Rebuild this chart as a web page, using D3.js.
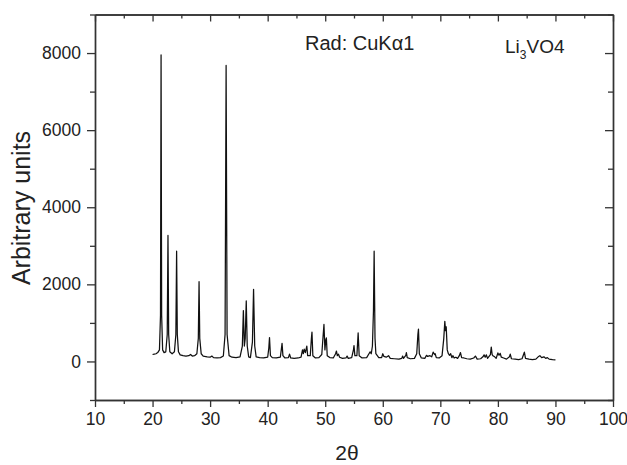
<!DOCTYPE html>
<html>
<head>
<meta charset="utf-8">
<script src="https://cdn.jsdelivr.net/npm/d3@7"></script>
<style>
  body { margin: 0; background: #fff; }
  text { font-family: "Liberation Sans", Arial, sans-serif; fill: #222; }
</style>
</head>
<body>
<div id="chart-area"></div>
<script>
// XRD pattern of Li3VO4 (2theta, intensity)
const twoTheta = [
  20.0, 20.3, 20.6, 20.9, 21.2, 21.38, 21.48, 21.58, 21.75, 22.0,
  22.3, 22.55, 22.68, 22.8, 23.0, 23.4, 23.8, 24.05, 24.18, 24.3,
  24.5, 24.8, 25.3, 25.8, 26.3, 26.6, 26.9, 27.3, 27.7, 27.95,
  28.08, 28.2, 28.45, 28.8, 29.5, 30.0, 30.3, 30.6, 31.2, 31.8,
  32.3, 32.6, 32.78, 32.95, 33.3, 33.8, 34.5, 35.2, 35.6, 35.78,
  35.95, 36.1, 36.28, 36.45, 36.7, 37.0, 37.35, 37.55, 37.75, 38.0,
  38.6, 39.3, 40.0, 40.2, 40.32, 40.48, 40.8, 41.5, 42.2, 42.38,
  42.5, 42.65, 43.0, 43.6, 43.8, 44.0, 44.6, 45.3, 45.8, 46.05,
  46.2, 46.35, 46.55, 46.8, 46.95, 47.4, 47.6, 47.7, 47.85, 48.3,
  48.9, 49.4, 49.65, 49.78, 49.95, 50.1, 50.2, 50.35, 50.8, 51.4,
  51.8, 51.95, 52.1, 52.3, 52.5, 53.0, 53.6, 53.8, 54.0, 54.6,
  54.9, 55.0, 55.15, 55.5, 55.72, 55.9, 56.4, 57.2, 57.6, 57.8,
  58.0, 58.2, 58.38, 58.5, 58.65, 58.8, 59.3, 59.8, 60.0, 60.2,
  60.6, 61.0, 61.3, 62.0, 62.8, 63.3, 63.45, 63.6, 64.0, 64.1,
  64.25, 64.8, 65.5, 65.9, 66.1, 66.2, 66.35, 66.7, 67.3, 67.6,
  67.8, 68.2, 68.5, 68.75, 69.0, 69.1, 69.3, 69.8, 70.3, 70.6,
  70.78, 70.9, 71.02, 71.2, 71.4, 71.6, 71.8, 72.0, 72.2, 72.4,
  72.7, 73.0, 73.3, 73.5, 73.7, 74.1, 74.6, 75.2, 75.8, 76.1,
  76.4, 77.0, 77.4, 77.6, 77.8, 78.0, 78.2, 78.7, 78.85, 79.0,
  79.2, 79.45, 79.7, 80.0, 80.2, 80.4, 80.6, 81.0, 81.5, 82.0,
  82.15, 82.35, 83.0, 83.6, 84.2, 84.6, 84.8, 85.4, 86.0, 86.6,
  87.0, 87.3, 87.6, 88.0, 88.3, 88.6, 88.9, 89.5, 90.0
];
const counts = [
  180, 190, 200, 230, 300, 1200, 7950, 1200, 300, 230,
  250, 700, 3270, 700, 250, 200, 250, 700, 2860, 700,
  250, 170, 150, 140, 150, 180, 140, 150, 200, 600,
  2070, 600, 200, 140, 120, 110, 140, 100, 90, 100,
  140, 700, 7680, 700, 150, 110, 100, 120, 400, 1320,
  400, 600, 1570, 400, 120, 100, 500, 1870, 400, 120,
  100, 90, 110, 350, 620, 150, 100, 90, 110, 320,
  470, 150, 90, 100, 190, 90, 80, 90, 110, 300,
  200, 320, 230, 400, 150, 150, 600, 760, 150, 90,
  100, 180, 700, 960, 300, 560, 610, 150, 100, 90,
  200, 270, 150, 190, 110, 80, 90, 140, 80, 100,
  300, 410, 150, 150, 740, 150, 90, 100, 200, 250,
  200, 400, 1300, 2860, 600, 200, 100, 100, 200, 130,
  110, 150, 80, 70, 60, 80, 140, 80, 160, 230,
  100, 70, 80, 200, 700, 840, 200, 90, 80, 160,
  130, 150, 120, 240, 180, 200, 100, 90, 150, 600,
  1040, 800, 900, 300, 200, 160, 200, 100, 150, 90,
  110, 80, 150, 230, 100, 90, 70, 60, 90, 140,
  60, 70, 120, 170, 110, 170, 80, 180, 370, 180,
  140, 120, 80, 220, 160, 210, 110, 90, 60, 120,
  190, 70, 60, 50, 70, 240, 80, 60, 50, 60,
  120, 150, 100, 120, 80, 100, 60, 45, 40
];
const xTicks = [10, 20, 30, 40, 50, 60, 70, 80, 90, 100];
const xMinor = [15, 25, 35, 45, 55, 65, 75, 85, 95];
const yTicks = [0, 2000, 4000, 6000, 8000];
const yMinor = [-1000, 1000, 3000, 5000, 7000, 9000];

const data = twoTheta.map((t, i) => ({ t: t, v: counts[i] }));

const svgWidth = 627, svgHeight = 465;
const margin = { left: 95, right: 14, top: 14.5, bottom: 65 };
const width = svgWidth - margin.left - margin.right;
const height = svgHeight - margin.top - margin.bottom;

const svg = d3.select("#chart-area")
              .append("svg")
              .attr("width", svgWidth)
              .attr("height", svgHeight);
const g = svg.append("g")
             .attr("transform", `translate(${margin.left},${margin.top})`);

const x = d3.scaleLinear().domain([10, 100]).range([0, width]);
const y = d3.scaleLinear().domain([-1000, 9000]).range([height, 0]);

const axisColor = "#333";

// pattern
const line = d3.line().x(d => x(d.t)).y(d => y(d.v));
g.append("path")
 .datum(data)
 .attr("fill", "none")
 .attr("stroke", "#111")
 .attr("stroke-width", 1.25)
 .attr("stroke-linejoin", "round")
 .attr("d", line);

function styleAxis(sel) {
  sel.select(".domain").attr("stroke", axisColor).attr("stroke-width", 1.4);
  sel.selectAll(".tick line").attr("stroke", axisColor).attr("stroke-width", 1.3);
  sel.selectAll("text").style("font-size", "17.5px").attr("fill", "#222");
}

// bottom: labelled, ticks outward
g.append("g")
 .attr("transform", `translate(0,${height})`)
 .call(d3.axisBottom(x).tickValues(xTicks).tickSize(7).tickPadding(6).tickSizeOuter(0))
 .call(styleAxis);
g.append("g")
 .attr("transform", `translate(0,${height})`)
 .call(d3.axisBottom(x).tickValues(xMinor).tickSize(4).tickFormat("").tickSizeOuter(0))
 .call(styleAxis);

// top: mirror, ticks inward
g.append("g")
 .call(d3.axisBottom(x).tickValues(xTicks).tickSize(7).tickFormat("").tickSizeOuter(0))
 .call(styleAxis);
g.append("g")
 .call(d3.axisBottom(x).tickValues(xMinor).tickSize(4).tickFormat("").tickSizeOuter(0))
 .call(styleAxis);

// left: labelled, ticks outward
g.append("g")
 .call(d3.axisLeft(y).tickValues(yTicks).tickSize(8).tickPadding(6).tickSizeOuter(0)
         .tickFormat(d3.format("d")))
 .call(styleAxis);
g.append("g")
 .call(d3.axisLeft(y).tickValues(yMinor).tickSize(5).tickFormat("").tickSizeOuter(0))
 .call(styleAxis);

// right: mirror, ticks inward
g.append("g")
 .attr("transform", `translate(${width},0)`)
 .call(d3.axisLeft(y).tickValues(yTicks).tickSize(8).tickFormat("").tickSizeOuter(0))
 .call(styleAxis);
g.append("g")
 .attr("transform", `translate(${width},0)`)
 .call(d3.axisLeft(y).tickValues(yMinor).tickSize(5).tickFormat("").tickSizeOuter(0))
 .call(styleAxis);

// axis titles
svg.append("text")
   .attr("x", 347)
   .attr("y", 460)
   .attr("text-anchor", "middle")
   .style("font-size", "21px")
   .text("2θ");

svg.append("text")
   .attr("x", -208)
   .attr("y", 30)
   .attr("text-anchor", "middle")
   .attr("transform", "rotate(-90)")
   .style("font-size", "25px")
   .text("Arbitrary units");

// annotations
svg.append("text")
   .attr("x", 305)
   .attr("y", 50)
   .style("font-size", "20px")
   .text("Rad: CuKα1");

const li = svg.append("text")
   .attr("x", 505)
   .attr("y", 53)
   .style("font-size", "19px");
li.append("tspan").text("Li");
li.append("tspan").attr("dy", 6).style("font-size", "12px").text("3");
li.append("tspan").attr("dy", -6).text("VO4");
</script>
</body>
</html>
